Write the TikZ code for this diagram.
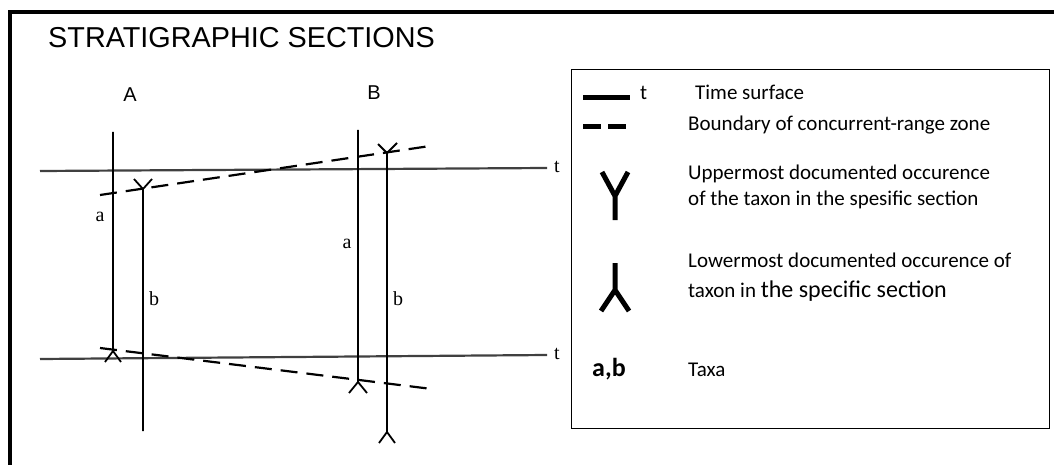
\documentclass[tikz,border=0pt]{standalone}
\usepackage{fontspec}
\setmainfont{Liberation Serif}
\newfontfamily\headfont{Liberation Sans}
\newfontfamily\keyfont{Carlito}
\usetikzlibrary{positioning}
\tikzset{
  frm/.style={line width=4pt},
  sect/.style={line width=1.8pt},
  tline/.style={line width=2.2pt, black!75},
  bnd/.style={line width=2.2pt, dash pattern=on 17pt off 9pt},
  sym/.style={line width=5pt},
  ttl/.style={font=\headfont\fontsize{28.8}{30}\selectfont, anchor=base west, inner sep=0pt},
  head/.style={font=\headfont\fontsize{20}{20}\selectfont, anchor=base, inner sep=0pt},
  lbl/.style={font=\fontsize{20}{20}\selectfont, anchor=base, inner sep=0pt},
  key/.style={font=\keyfont\fontsize{21}{25}\selectfont, anchor=base west, inner sep=0pt},
}
\begin{document}
\begin{tikzpicture}[x=1pt,y=-1pt]
  \useasboundingbox (0,0) rectangle (1054,465);
  \draw[frm] (9.5,470) |- (1060,12.5);
  \node[ttl] (title) at (48,48) {STRATIGRAPHIC SECTIONS};
  \node[head] (headA) at (130,102) {A};
  \node[head] (headB) at (374,100) {B};

  % time surfaces
  \coordinate (tw1) at (40,171); \coordinate (te1) at (547,168);
  \coordinate (tw2) at (40,359); \coordinate (te2) at (547,355);
  \draw[tline] (tw1) -- (te1);
  \draw[tline] (tw2) -- (te2);
  \node[lbl] (lt1) at (557,173) {t};
  \node[lbl] (lt2) at (557,359) {t};

  % section A
  \coordinate (aAtop) at (113,132);
  \coordinate (aAlow) at (113,351);
  \coordinate (bAup) at (143,189);
  \coordinate (bAend) at (143,431);
  \draw[sect] (aAtop) -- (aAlow) -- ++(-8,11) (aAlow) -- ++(8,11);
  \draw[sect] (bAend) -- (bAup) -- ++(-9,-10) (bAup) -- ++(9,-10);
  \node[lbl] (laA) at (100,222) {a};
  \node[lbl] (lbA) at (154,305) {b};

  % section B
  \coordinate (aBtop) at (358,130);
  \coordinate (aBlow) at (358,382);
  \coordinate (bBup) at (387,153);
  \coordinate (bBlow) at (387,432);
  \draw[sect] (aBtop) -- (aBlow) -- ++(-9,11) (aBlow) -- ++(9,11);
  \draw[sect] (bBlow) -- (bBup) -- ++(-9,-9) (bBup) -- ++(10,-10);
  \draw[sect] (bBlow) -- ++(-8,11) (bBlow) -- ++(8,11);
  \node[lbl] (laB) at (347,248) {a};
  \node[lbl] (lbB) at (398,305) {b};

  % concurrent-range boundaries
  \coordinate (bdw1) at (100,195); \coordinate (bde1) at (430,146);
  \coordinate (bdw2) at (100,348); \coordinate (bde2) at (432,389);
  \draw[bnd] (bdw1) -- (bde1);
  \draw[bnd] (bdw2) -- (bde2);

  % legend
  \node[draw, line width=1.2pt, minimum width=478pt, minimum height=359pt,
        anchor=north west, inner sep=0pt] (legend) at (571,69) {};
  \coordinate (ks1) at (583,98); \coordinate (ks2) at (630,98);
  \draw[sym] (ks1) -- (ks2);
  \node[key] (kt) at (640,100) {t};
  \node[key] (ktime) at (695,100) {Time surface};
  \coordinate (kd1) at (583,127); \coordinate (kd2) at (627,127);
  \draw[sym, dash pattern=on 18pt off 7pt] (kd1) -- (kd2);
  \node[key] (kbnd) at (688,131) {Boundary of concurrent-range zone};
  \coordinate (kyup) at (615,196);
  \draw[sym] (602,172) -- (kyup) -- (628,172) (kyup) -- ++(0,24);
  \node[key] (kup1) at (688,180) {Uppermost documented occurence};
  \node[key] (kup2) at (688,205) {of the taxon in the spesific section};
  \coordinate (kylow) at (615,290);
  \draw[sym] (615,263) -- (kylow) -- ++(-14,21) (kylow) -- ++(14,21);
  \node[key] (klow1) at (688,267) {Lowermost documented occurence of};
  \node[key] (klow2) at (688,297) {taxon in {\fontsize{24}{25}\selectfont the specific section}};
  \node[key, font=\keyfont\bfseries\fontsize{26}{26}\selectfont] (kab) at (592,376) {a,b};
  \node[key] (ktaxa) at (688,376) {Taxa};
\end{tikzpicture}
\end{document}
